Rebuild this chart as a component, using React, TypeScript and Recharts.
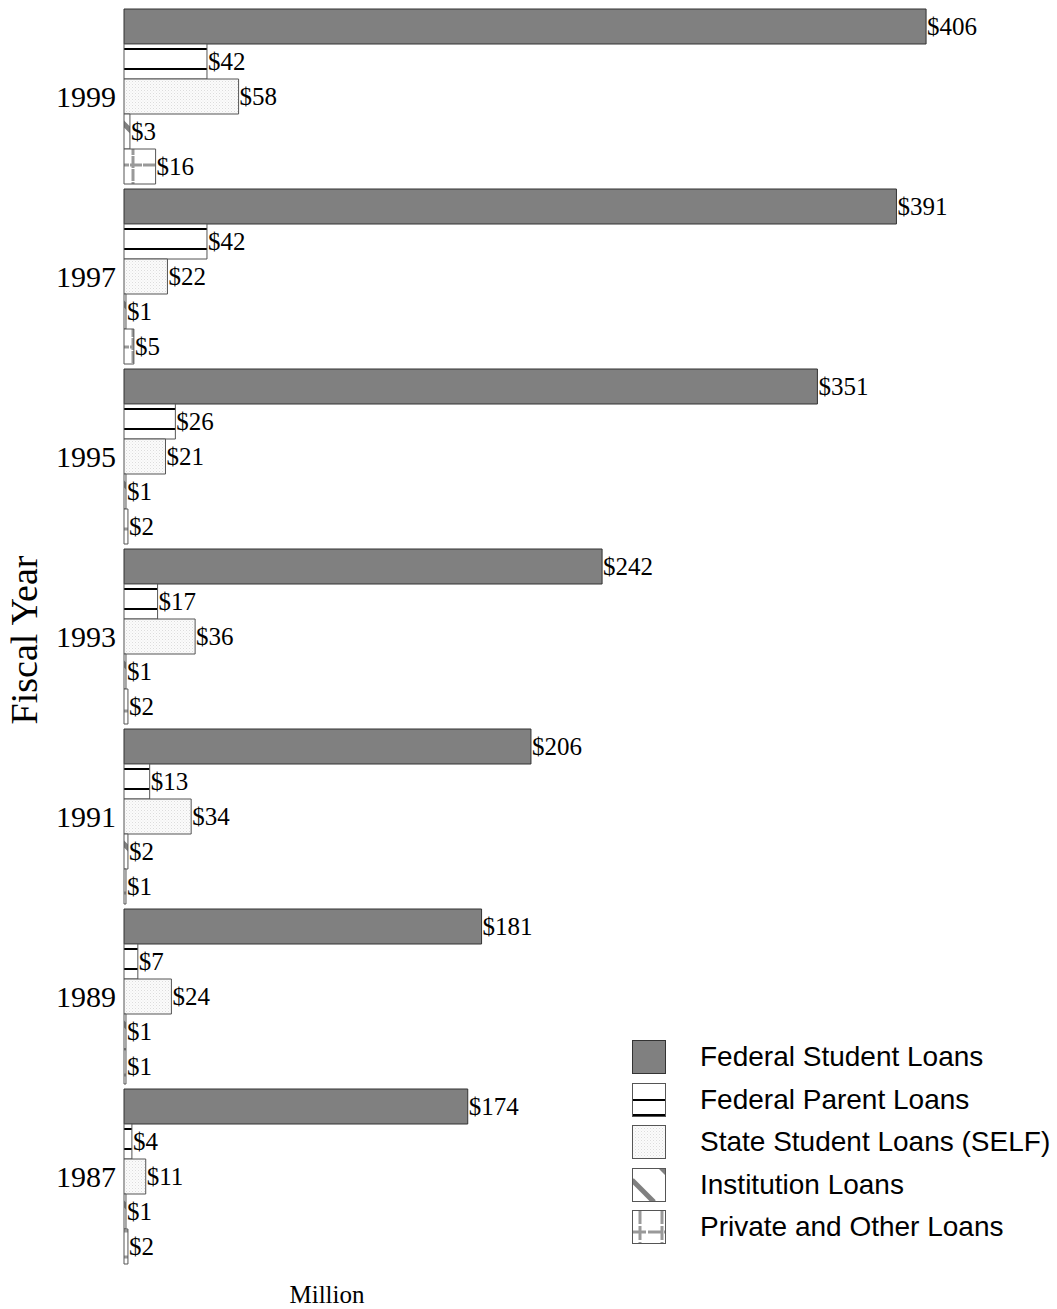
import React from 'react';
import { BarChart, Bar, XAxis, YAxis, LabelList } from 'recharts';

const YEARS = ['1999', '1997', '1995', '1993', '1991', '1989', '1987'];
const FEDERAL_STUDENT = [406, 391, 351, 242, 206, 181, 174];
const FEDERAL_PARENT = [42, 42, 26, 17, 13, 7, 4];
const STATE_SELF = [58, 22, 21, 36, 34, 24, 11];
const INSTITUTION = [3, 1, 1, 1, 2, 1, 1];
const PRIVATE_OTHER = [16, 5, 2, 2, 1, 1, 2];

const SERIES = [
  { key: 'federalStudent', name: 'Federal Student Loans', fill: '#808080' },
  { key: 'federalParent', name: 'Federal Parent Loans', fill: 'url(#patParent)' },
  { key: 'stateSelf', name: 'State Student Loans (SELF)', fill: 'url(#patState)' },
  { key: 'institution', name: 'Institution Loans', fill: 'url(#patInst)' },
  { key: 'privateOther', name: 'Private and Other Loans', fill: 'url(#patPrivate)' },
];

const data = YEARS.map((year, i) => ({
  year,
  federalStudent: FEDERAL_STUDENT[i],
  federalParent: FEDERAL_PARENT[i],
  stateSelf: STATE_SELF[i],
  institution: INSTITUTION[i],
  privateOther: PRIVATE_OTHER[i],
}));

const SERIF = '"Liberation Serif", "Times New Roman", serif';
const SANS = '"Liberation Sans", Arial, sans-serif';

// legend swatches, drawn by hand
const Swatch: React.FC<{ idx: number }> = ({ idx }) => {
  const border = <rect x={0.5} y={0.5} width={33} height={33} fill="none" stroke="#555" strokeWidth={1} />;
  if (idx === 0) {
    return (
      <svg width={34} height={34}>
        <rect x={0.5} y={0.5} width={33} height={33} fill="#808080" stroke="#333" />
      </svg>
    );
  }
  if (idx === 1) {
    return (
      <svg width={34} height={34}>
        <rect x={0} y={0} width={34} height={34} fill="#fff" />
        <line x1={0} y1={17} x2={34} y2={17} stroke="#000" strokeWidth={2} />
        <line x1={0} y1={32} x2={34} y2={32} stroke="#000" strokeWidth={2} />
        {border}
      </svg>
    );
  }
  if (idx === 2) {
    return (
      <svg width={34} height={34}>
        <rect x={0} y={0} width={34} height={34} fill="url(#patState)" />
        {border}
      </svg>
    );
  }
  if (idx === 3) {
    return (
      <svg width={34} height={34}>
        <rect x={0} y={0} width={34} height={34} fill="#fff" />
        <line x1={0} y1={12} x2={22} y2={34} stroke="#808080" strokeWidth={5} />
        <polygon points="26,0 34,0 34,8" fill="#808080" />
        {border}
      </svg>
    );
  }
  return (
    <svg width={34} height={34}>
      <rect x={0} y={0} width={34} height={34} fill="#fff" />
      <line x1={8} y1={0} x2={8} y2={34} stroke="#999" strokeWidth={3} strokeDasharray="14 2" />
      <line x1={30} y1={0} x2={30} y2={34} stroke="#999" strokeWidth={3} strokeDasharray="14 2" />
      <line x1={0} y1={22} x2={34} y2={22} stroke="#999" strokeWidth={3} strokeDasharray="14 2" />
      {border}
    </svg>
  );
};

const App: React.FC = () => {
  return (
    <div style={{ position: 'absolute', left: 0, top: 0, width: 1057, height: 1309, background: '#fff' }}>
      <BarChart
        width={1057}
        height={1309}
        data={data}
        layout="vertical"
        margin={{ top: 6.5, right: 44, left: 0, bottom: 0.5 }}
        barCategoryGap={2.5}
        barGap={0}
      >
        <defs>
          <pattern id="patParent" patternUnits="userSpaceOnUse" width={10} height={20}>
            <rect x={0} y={0} width={10} height={20} fill="#fff" />
            <rect x={0} y={8} width={10} height={2} fill="#000" />
          </pattern>
          <pattern id="patState" patternUnits="userSpaceOnUse" width={3} height={3}>
            <rect x={0} y={0} width={3} height={3} fill="#fbfbfb" />
            <rect x={0} y={0} width={1} height={1} fill="#dcdcdc" />
            <rect x={1.5} y={1.5} width={1} height={1} fill="#e8e8e8" />
          </pattern>
          <pattern id="patInst" patternUnits="userSpaceOnUse" width={30} height={30}>
            <rect x={0} y={0} width={30} height={30} fill="#fff" />
            <path d="M0,0 L30,30 M-5,25 L5,35 M25,-5 L35,5" stroke="#808080" strokeWidth={5} />
          </pattern>
          <pattern id="patPrivate" patternUnits="userSpaceOnUse" width={26} height={26}>
            <rect x={0} y={0} width={26} height={26} fill="#fff" />
            <line x1={3} y1={0} x2={3} y2={26} stroke="#999" strokeWidth={3} strokeDasharray="12 1" />
            <line x1={0} y1={9} x2={26} y2={9} stroke="#999" strokeWidth={3} strokeDasharray="12 1" />
          </pattern>
        </defs>
        <XAxis
          type="number"
          domain={[0, 450]}
          height={42}
          tick={false}
          axisLine={false}
          tickLine={false}
          label={{
            content: () => (
              <text x={327} y={1303} textAnchor="middle" fontFamily={SERIF} fontSize={25} fill="#000">
                Million
              </text>
            ),
          }}
        />
        <YAxis
          type="category"
          dataKey="year"
          width={124}
          axisLine={false}
          tickLine={false}
          tick={{ fontFamily: SERIF, fontSize: 30, fill: '#000' }}
          label={{
            content: () => (
              <text
                x={37}
                y={640}
                transform="rotate(-90, 37, 640)"
                textAnchor="middle"
                fontFamily={SERIF}
                fontSize={38}
                fill="#000"
              >
                Fiscal Year
              </text>
            ),
          }}
        />
        {SERIES.map((s) => (
          <Bar
            key={s.key}
            dataKey={s.key}
            name={s.name}
            fill={s.fill}
            stroke={s.key === 'federalStudent' ? '#333' : '#555'}
            strokeWidth={1}
            isAnimationActive={false}
          >
            <LabelList
              dataKey={s.key}
              position="right"
              offset={1}
              formatter={(v: any) => `$${v}`}
              style={{ fontFamily: SERIF, fontSize: 25, fill: '#000' }}
            />
          </Bar>
        ))}
      </BarChart>
      <div style={{ position: 'absolute', left: 632, top: 1040 }}>
        {SERIES.map((s, i) => (
          <div
            key={s.key}
            style={{ position: 'absolute', left: 0, top: i * 42.5, height: 34, width: 430, display: 'flex', alignItems: 'center' }}
          >
            <Swatch idx={i} />
            <span style={{ marginLeft: 34, fontFamily: SANS, fontSize: 28, color: '#000', whiteSpace: 'nowrap' }}>{s.name}</span>
          </div>
        ))}
      </div>
    </div>
  );
};

export default App;
